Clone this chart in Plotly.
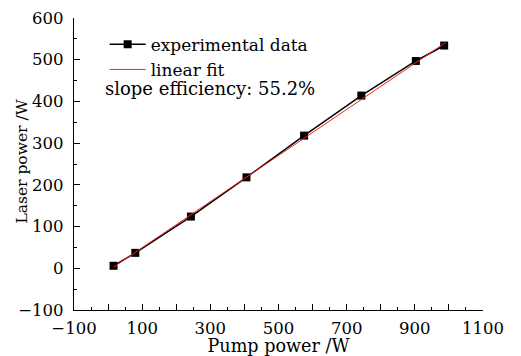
import plotly.graph_objects as go

pump_power = [16, 80, 243, 406, 575, 743, 903, 986]
laser_power = [6, 37, 124, 218, 318, 414, 497, 534]
fit_x = [16, 990]
fit_y = [3, 541]
x_tickvals = [-100, 0, 100, 200, 300, 400, 500, 600, 700, 800, 900, 1000, 1100]
x_ticktext = ["\u2212100", "", "100", "", "300", "", "500", "", "700", "", "900", "", "1100"]
y_tickvals = [-100, 0, 100, 200, 300, 400, 500, 600]
y_ticktext = ["\u2212100", "0", "100", "200", "300", "400", "500", "600"]

FONT = "DejaVu Serif"

fig = go.Figure()
fig.add_trace(go.Scatter(
    x=pump_power, y=laser_power, mode="lines+markers",
    name="experimental data",
    line=dict(color="black", width=1.5),
    marker=dict(symbol="square", size=8, color="black"),
))
fig.add_trace(go.Scatter(
    x=fit_x, y=fit_y, mode="lines", name="linear fit",
    line=dict(color="#ee2222", width=1),
))

fig.add_annotation(
    text="slope efficiency: 55.2%", xref="paper", yref="paper",
    x=0.072, y=0.759, xanchor="left", yanchor="middle", showarrow=False,
    font=dict(family=FONT, size=18, color="black"),
)
fig.add_annotation(
    text="Laser power /W", xref="paper", yref="paper",
    x=-0.128, y=0.507, xanchor="center", yanchor="middle", showarrow=False,
    textangle=-90, font=dict(family=FONT, size=15.5, color="black"),
)

axis_common = dict(
    showline=True, linecolor="black", linewidth=1.2,
    ticks="inside", ticklen=6, tickcolor="black", tickwidth=1,
    showgrid=False, zeroline=False, mirror=False, automargin=False,
    tickfont=dict(family=FONT, size=16.5, color="black"),
    minor=dict(ticks="inside", ticklen=3, tickcolor="black", dtick=50, showgrid=False),
)

fig.update_layout(
    width=521, height=356,
    margin=dict(l=73.5, r=37.5, t=17.5, b=45.5),
    paper_bgcolor="white", plot_bgcolor="white",
    font=dict(family=FONT, size=16, color="black"),
    showlegend=True,
    legend=dict(
        x=0.075, y=0.97, xanchor="left", yanchor="top",
        bgcolor="rgba(0,0,0,0)", font=dict(family=FONT, size=17),
        tracegroupgap=0, itemwidth=36,
    ),
    xaxis=dict(
        range=[-100, 1100], tickmode="array", tickvals=x_tickvals, ticktext=x_ticktext,
        ticklabelstandoff=3,
        title=dict(text="Pump power /W", font=dict(family=FONT, size=17.6), standoff=9),
        **axis_common,
    ),
    yaxis=dict(
        range=[-100, 600], tickmode="array", tickvals=y_tickvals, ticktext=y_ticktext,
        ticklabelstandoff=6,
        **axis_common,
    ),
)

fig.write_html("out.html")
